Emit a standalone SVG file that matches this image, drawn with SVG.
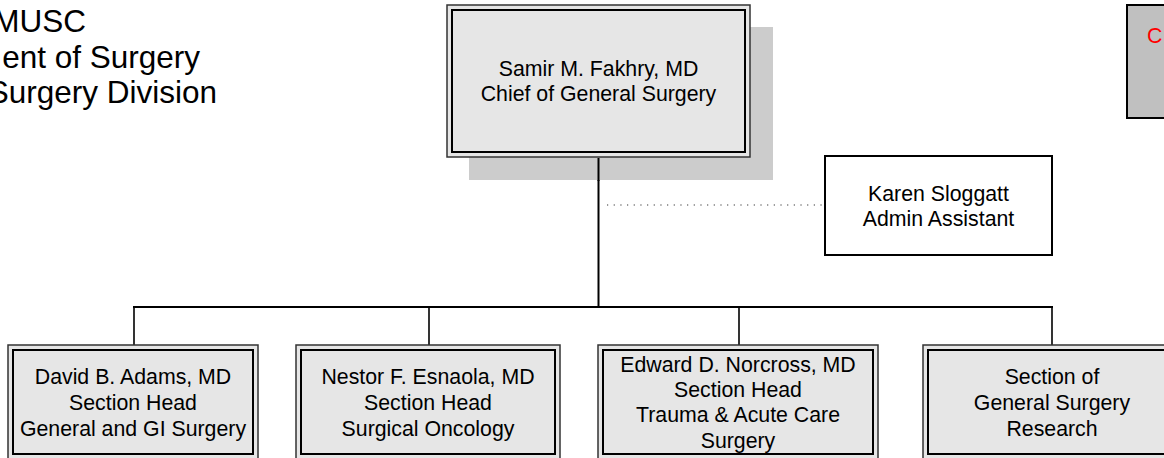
<svg xmlns="http://www.w3.org/2000/svg" width="1164" height="458" viewBox="0 0 1164 458">
<style>
text{font-family:"Liberation Sans",Arial,sans-serif;fill:#000}
.t{font-size:21.3px;text-anchor:middle}
.title{font-size:31.5px;text-anchor:end}
.outer{fill:#e6e6e6;stroke:#333;stroke-width:1.5}
.inner{fill:#e6e6e6;stroke:#000;stroke-width:2}
.ln{stroke:#000;stroke-width:2;fill:none}
.drop{stroke:#000;stroke-width:1.6;fill:none}
</style>
<rect width="1164" height="458" fill="#fff"/>
<g id="title">
<text class="title" x="86" y="32">MUSC</text>
<text class="title" x="200" y="68">ent of Surgery</text>
<text class="title" x="217" y="103">Surgery Division</text>
</g>
<g id="corner">
<rect x="1127" y="5" width="45" height="113" fill="#c0c0c0" stroke="#000" stroke-width="2"/>
<text x="1147" y="43" style="font-size:21.3px;fill:#ff0000">C</text>
</g>
<g id="connectors">
<line class="ln" x1="598.5" y1="156" x2="598.5" y2="307"/>
<line class="ln" x1="133" y1="307" x2="1053" y2="307"/>
<line class="drop" x1="134" y1="307" x2="134" y2="345"/>
<line class="drop" x1="429" y1="307" x2="429" y2="345"/>
<line class="drop" x1="739" y1="307" x2="739" y2="345"/>
<line class="drop" x1="1052" y1="307" x2="1052" y2="345"/>
<line x1="607" y1="205" x2="823" y2="205" stroke="#333" stroke-width="1.2" stroke-dasharray="1.2 5.47"/>
</g>
<g id="chief">
<rect x="469" y="27" width="304" height="153" fill="#cccccc"/>
<rect class="outer" x="447" y="5" width="303" height="152"/>
<rect class="inner" x="452" y="10" width="293" height="142"/>
<text class="t" x="598.5" y="75.5">Samir M. Fakhry, MD</text>
<text class="t" x="598.5" y="101">Chief of General Surgery</text>
</g>
<line class="ln" x1="598.5" y1="158" x2="598.5" y2="181"/>
<g id="karen">
<rect x="825" y="156" width="227" height="99" fill="#fff" stroke="#000" stroke-width="2"/>
<text class="t" x="938.5" y="200.5">Karen Sloggatt</text>
<text class="t" x="938.5" y="226">Admin Assistant</text>
</g>
<g id="adams">
<rect class="outer" x="8" y="345" width="250" height="114"/>
<rect class="inner" x="13" y="350" width="240" height="104"/>
<text class="t" x="133" y="384">David B. Adams, MD</text>
<text class="t" x="133" y="410">Section Head</text>
<text class="t" x="133" y="436">General and GI Surgery</text>
</g>
<g id="esnaola">
<rect class="outer" x="296" y="345" width="264" height="114"/>
<rect class="inner" x="301" y="350" width="254" height="104"/>
<text class="t" x="428" y="384">Nestor F. Esnaola, MD</text>
<text class="t" x="428" y="410">Section Head</text>
<text class="t" x="428" y="436">Surgical Oncology</text>
</g>
<g id="norcross">
<rect class="outer" x="598" y="345" width="280" height="114"/>
<rect class="inner" x="603" y="350" width="270" height="104"/>
<text class="t" x="738" y="371.5">Edward D. Norcross, MD</text>
<text class="t" x="738" y="397">Section Head</text>
<text class="t" x="738" y="422">Trauma &amp; Acute Care</text>
<text class="t" x="738" y="447.5">Surgery</text>
</g>
<g id="research">
<rect class="outer" x="923" y="345" width="258" height="114"/>
<rect class="inner" x="928" y="350" width="248" height="104"/>
<text class="t" x="1052" y="384">Section of</text>
<text class="t" x="1052" y="410">General Surgery</text>
<text class="t" x="1052" y="436">Research</text>
</g>
</svg>
